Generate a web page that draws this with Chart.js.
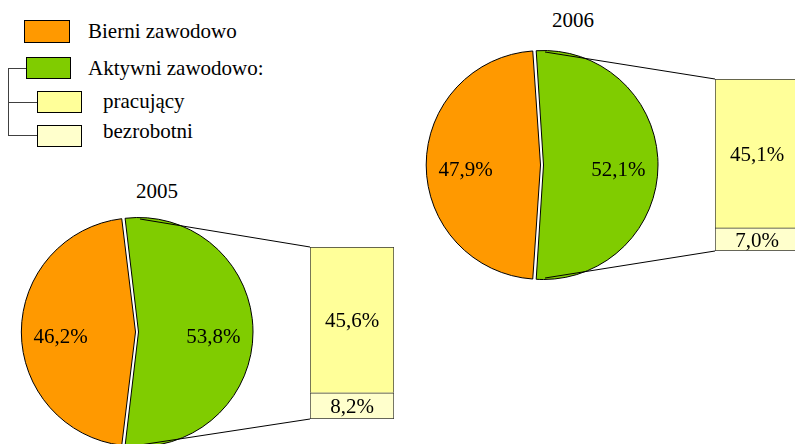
<!DOCTYPE html>
<html lang="pl">
<head>
<meta charset="utf-8">
<script src="https://cdn.jsdelivr.net/npm/chart.js@4/dist/chart.umd.min.js"></script>
<style>
    html, body {
        margin: 0;
        padding: 0;
        background: #fff;
        overflow: hidden;
    }
    .page {
        position: relative;
        width: 795px;
        height: 444px;
        overflow: hidden;
        font-family: 'Liberation Serif', 'Times New Roman', serif;
        font-size: 21px;
        color: #000;
    }
    .page canvas {
        position: absolute;
    }
    .legend__box {
        position: absolute;
        box-sizing: border-box;
        border: 1px solid #000;
    }
    .legend__line {
        position: absolute;
        background: #404040;
    }
    .txt {
        position: absolute;
        line-height: 21px;
        white-space: nowrap;
    }
    .title {
        width: 80px;
        text-align: center;
    }
</style>
</head>
<body>
<div class="page" id="page">
    <div class="legend__line" style="left:8px;top:68px;width:1px;height:68px"></div>
    <div class="legend__line" style="left:8px;top:68px;width:18px;height:1px"></div>
    <div class="legend__line" style="left:8px;top:102px;width:29px;height:1px"></div>
    <div class="legend__line" style="left:8px;top:135px;width:29px;height:1px"></div>
    <div class="legend__box" id="box0" style="left:24px;top:20px;width:46px;height:23px"></div>
    <div class="legend__box" id="box1" style="left:26px;top:57px;width:45px;height:22px"></div>
    <div class="legend__box" id="box2" style="left:37px;top:91px;width:45px;height:22px"></div>
    <div class="legend__box" id="box3" style="left:37px;top:125px;width:45px;height:22px"></div>
    <div class="txt" id="lab0" style="left:88px;top:21px"></div>
    <div class="txt" id="lab1" style="left:88px;top:58px"></div>
    <div class="txt" id="lab2" style="left:103px;top:91px"></div>
    <div class="txt" id="lab3" style="left:103px;top:121px"></div>

    <div class="txt title" id="title0" style="left:117px;top:181px"></div>
    <div class="txt title" id="title1" style="left:533px;top:10px"></div>

    <canvas id="pie0" width="303" height="260" style="left:7px;top:202px"></canvas>
    <canvas id="bar0" width="84" height="172" style="left:310px;top:247px"></canvas>
    <canvas id="pie1" width="303" height="260" style="left:412px;top:35px"></canvas>
    <canvas id="bar1" width="84" height="172" style="left:715px;top:79px"></canvas>
</div>

<script>
const years = ['2005', '2006'];
const bierni = [46.2, 47.9];
const aktywni = [53.8, 52.1];
const pracujacy = [45.6, 45.1];
const bezrobotni = [8.2, 7.0];
const legendLabels = ['Bierni zawodowo', 'Aktywni zawodowo:', 'pracujący', 'bezrobotni'];
const colors = ['#FF9900', '#80CC00', '#FFFF99', '#FFFFCC'];

const FONT = '21px "Liberation Serif", "Times New Roman", Times, serif';
const pct = (v) => v.toFixed(1).replace('.', ',') + '%';

legendLabels.forEach((text, i) => {
    document.getElementById('lab' + i).textContent = text;
    document.getElementById('box' + i).style.background = colors[i];
});
years.forEach((y, i) => {
    document.getElementById('title' + i).textContent = y;
});

Chart.defaults.animation = false;
Chart.defaults.responsive = false;
Chart.defaults.devicePixelRatio = 1;
Chart.defaults.font.family = '"Liberation Serif", "Times New Roman", Times, serif';

const barLabels = {
    id: 'barLabels',
    afterDatasetsDraw(chart) {
        const ctx = chart.ctx;
        ctx.save();
        ctx.font = FONT;
        ctx.fillStyle = '#000';
        ctx.textAlign = 'center';
        ctx.textBaseline = 'middle';
        chart.data.datasets.forEach((ds, di) => {
            chart.getDatasetMeta(di).data.forEach((el, j) => {
                ctx.fillText(pct(ds.data[j]), el.x, (el.y + el.base) / 2 + 2);
            });
        });
        ctx.restore();
    },
};

const pieLabels = {
    id: 'pieLabels',
    afterDatasetsDraw(chart) {
        const ctx = chart.ctx;
        const ds = chart.data.datasets[0];
        ctx.save();
        ctx.font = FONT;
        ctx.fillStyle = '#000';
        ctx.textAlign = 'center';
        ctx.textBaseline = 'middle';
        chart.getDatasetMeta(0).data.forEach((arc, j) => {
            const mid = (arc.startAngle + arc.endAngle) / 2;
            const r = arc.outerRadius * 0.675;
            ctx.fillText(pct(ds.data[j]), arc.x + Math.cos(mid) * r, arc.y + Math.sin(mid) * r + 5);
        });
        ctx.restore();
    },
};

function makeBar(i) {
    return new Chart(document.getElementById('bar' + i), {
        type: 'bar',
        data: {
            labels: [years[i]],
            datasets: [
                {
                    label: legendLabels[3],
                    data: [bezrobotni[i]],
                    backgroundColor: colors[3],
                    borderColor: '#333',
                    borderWidth: 1,
                    borderSkipped: false,
                },
                {
                    label: legendLabels[2],
                    data: [pracujacy[i]],
                    backgroundColor: colors[2],
                    borderColor: '#333',
                    borderWidth: 1,
                    borderSkipped: 'bottom',
                },
            ],
        },
        options: {
            layout: { padding: 0 },
            barPercentage: 1,
            categoryPercentage: 1,
            scales: {
                x: { stacked: true, display: false },
                y: { stacked: true, display: false, min: 0, max: aktywni[i] },
            },
            plugins: {
                legend: { display: false },
                tooltip: { enabled: false },
            },
        },
        plugins: [barLabels],
    });
}

function makePie(i, barChart) {
    const pieCanvas = document.getElementById('pie' + i);
    const barCanvas = document.getElementById('bar' + i);
    const arcOffset = 6;

    const connector = {
        id: 'connector',
        afterDatasetsDraw(chart) {
            const ctx = chart.ctx;
            const green = chart.getDatasetMeta(0).data[0];
            const shift = arcOffset / 2;
            const dx = barCanvas.offsetLeft - pieCanvas.offsetLeft;
            const dy = barCanvas.offsetTop - pieCanvas.offsetTop;
            const top = barChart.getDatasetMeta(1).data[0];
            const bottom = barChart.getDatasetMeta(0).data[0];
            const left = top.x - top.width / 2 + dx;
            ctx.save();
            ctx.strokeStyle = '#000';
            ctx.lineWidth = 1;
            ctx.beginPath();
            ctx.moveTo(green.x + shift, green.y - green.outerRadius);
            ctx.lineTo(left, top.y + dy);
            ctx.moveTo(green.x + shift, green.y + green.outerRadius);
            ctx.lineTo(left, bottom.base + dy);
            ctx.stroke();
            ctx.restore();
        },
    };

    return new Chart(pieCanvas, {
        type: 'pie',
        data: {
            labels: [legendLabels[1], legendLabels[0]],
            datasets: [
                {
                    data: [aktywni[i], bierni[i]],
                    backgroundColor: [colors[1], colors[0]],
                    borderColor: '#000',
                    borderWidth: 1,
                    offset: arcOffset,
                },
            ],
        },
        options: {
            // green slice centred on the right side
            rotation: 90 - aktywni[i] * 1.8,
            radius: 113,
            layout: { padding: { left: 0, top: 0, bottom: 0, right: 43 } },
            plugins: {
                legend: { display: false },
                tooltip: { enabled: false },
            },
        },
        plugins: [connector, pieLabels],
    });
}

function drawAll() {
    years.forEach((y, i) => {
        const bar = makeBar(i);
        makePie(i, bar);
    });
}

window.addEventListener('load', () => {
    document.fonts.ready.then(drawAll);
});
</script>
</body>
</html>
